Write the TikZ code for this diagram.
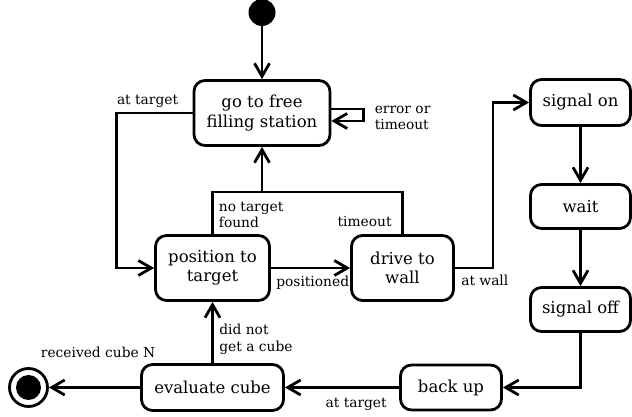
\documentclass[tikz,border=0pt]{standalone}
\usepackage{fontspec}
\setmainfont{DejaVu Serif}
\usetikzlibrary{arrows.meta}
\usetikzlibrary{positioning}

\begin{document}
\begin{tikzpicture}[x=1pt, y=1pt]
        \tikzset{
          >={Straight Barb[length=13pt, width=15pt]},
          activity/.style={
            draw,
            line width=2.8pt,
            rounded corners=11pt,
            align=center,
            inner sep=2pt,
            font=\fontsize{16.5}{19.5}\selectfont,
          },
          flow/.style={->, line width=2.8pt},
          link/.style={line width=2.8pt},
          guard/.style={
            font=\fontsize{13.8}{16.5}\selectfont,
            align=left,
            inner sep=2pt,
          },
        }
        \useasboundingbox (0,0) rectangle (632,417);

        % states
        \node[circle, fill, minimum size=27pt, inner sep=0pt] (init) at (262,404.5) {};
        \node[activity, below of=init, node distance=100.5pt,
              minimum width=136pt, minimum height=65pt] (goto) {go to free\\filling station};
        \node[activity, below of=goto, node distance=155pt, xshift=-49.5pt,
              minimum width=114pt, minimum height=65pt] (pos) {position to\\target};
        \node[activity, right of=pos, node distance=190pt,
              minimum width=102pt, minimum height=65pt] (drive) {drive to\\wall};
        \node[activity, right of=goto, node distance=318.5pt, yshift=10.5pt,
              minimum width=100pt, minimum height=46pt] (son) {signal on};
        \node[activity, below of=son, node distance=104pt,
              minimum width=100pt, minimum height=44pt] (wait) {wait};
        \node[activity, below of=wait, node distance=103pt,
              minimum width=100pt, minimum height=44pt] (soff) {signal off};
        \node[activity, below of=pos, node distance=119.5pt,
              minimum width=142pt, minimum height=46pt] (eval) {evaluate cube};
        \node[activity, right of=eval, node distance=238.5pt,
              minimum width=101pt, minimum height=45pt] (backup) {back up};
        \node[circle, draw, line width=2.8pt, minimum size=38pt, inner sep=0pt,
              left of=eval, node distance=184pt,
              path picture={\fill (path picture bounding box.center) circle (12.5pt);}] (final) {};
        \coordinate[below of=goto, node distance=79pt] (merge);

        % transitions
        \draw[flow] (init) -- (goto);
        \draw[flow] ([yshift=4pt]goto.east) -- ++(32pt,0)
          node[guard, right=8pt, yshift=-9pt] {error or\\timeout}
          |- ([yshift=-8pt]goto.east);
        \draw[flow] (goto.west) -- ++(-76pt,0)
          node[guard, anchor=base west, xshift=-3pt, yshift=8pt] {at target} |- (pos.west);
        \draw[flow] (pos.north) node[guard, anchor=west, xshift=3pt, yshift=19pt] {no target\\found}
          |- (merge) -- (goto.south);
        \draw[link] (drive.north) node[guard, anchor=base east, xshift=-7.5pt, yshift=8pt] {timeout}
          |- (merge);
        \draw[flow] (pos) -- node[guard, pos=0, anchor=base west, xshift=2pt, yshift=-19pt] {positioned} (drive);
        \draw[flow] (drive.east) node[guard, anchor=base west, xshift=3pt, yshift=-18pt] {at wall}
          -- ++(38pt,0) |- (son.west);
        \draw[flow] (son) -- (wait);
        \draw[flow] (wait) -- (soff);
        \draw[flow] (soff.south) |- (backup.east);
        \draw[flow] (backup) -- node[guard, pos=0, anchor=base east, xshift=-9pt, yshift=-20pt] {at target} (eval);
        \draw[flow] (eval) -- node[guard, pos=0, anchor=west, xshift=3.5pt, yshift=24pt] {did not\\get a cube} (pos);
        \draw[flow] (eval) -- node[guard, pos=0, anchor=base, xshift=-42pt, yshift=29.5pt] {received cube N} (final);
      \end{tikzpicture}
\end{document}
